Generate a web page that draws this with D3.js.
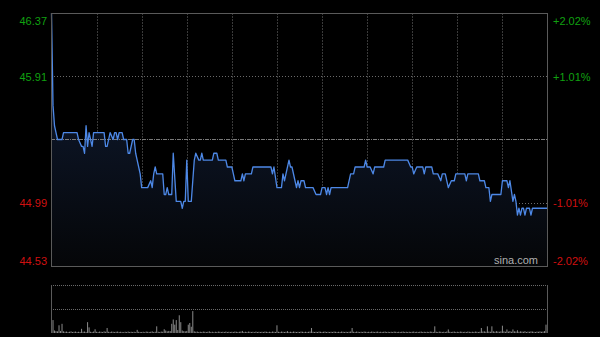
<!DOCTYPE html>
<html><head><meta charset="utf-8">
<script src="https://cdnjs.cloudflare.com/ajax/libs/d3/7.8.5/d3.min.js"></script>
<style>html,body{margin:0;padding:0;background:#000;}svg{display:block;}</style>
</head><body>
<svg id="c" width="600" height="337"></svg>
<script>
// ---- data ----
const preClose = 45.45;
const priceTicks = [44.53, 44.99, 45.91, 46.37];
const priceTickLabels = ["44.53", "44.99", "45.91", "46.37"];
const pctTickLabels = ["-2.02%", "-1.01%", "+1.01%", "+2.02%"];
const gridMinutes = [30, 60, 90, 120, 150, 180, 210, 240, 270, 300];
const totalMinutes = 330;
// price path (minute index since open, price)
const minutes = [0,1,2,3,4,7,8,17,18,20,21,22,23,24,25,27,28,35,36,37,39,41,42,43,44,45,47,48,50,51,52,54,55,56,57,58,59,60,64,66,67,68,69,70,74,75,76,77,78,80,81,83,86,87,88,89,90,91,93,95,96,98,99,100,101,107,108,110,111,116,117,120,121,122,126,127,128,129,133,134,146,147,148,150,153,154,155,158,159,160,162,163,164,165,166,168,169,174,176,179,180,182,183,184,185,186,197,199,201,202,208,209,210,212,214,215,221,222,237,239,240,241,243,247,248,249,253,254,257,259,260,262,264,266,268,269,275,276,277,284,285,288,289,291,292,293,299,300,303,304,305,307,308,309,310,311,312,313,314,315,316,318,319,320,330];
const prices = [46.37,45.70,45.55,45.50,45.45,45.45,45.50,45.50,45.45,45.40,45.40,45.35,45.55,45.40,45.50,45.40,45.50,45.50,45.40,45.40,45.50,45.45,45.50,45.50,45.45,45.50,45.50,45.45,45.45,45.35,45.35,45.45,45.45,45.35,45.30,45.25,45.20,45.10,45.10,45.15,45.10,45.20,45.25,45.20,45.20,45.05,45.05,45.10,45.05,45.05,45.35,45.00,45.00,44.95,45.00,45.00,45.30,45.00,45.00,45.30,45.35,45.30,45.30,45.35,45.30,45.30,45.35,45.35,45.30,45.30,45.25,45.25,45.20,45.15,45.15,45.20,45.15,45.20,45.20,45.25,45.25,45.20,45.25,45.10,45.10,45.20,45.15,45.30,45.25,45.25,45.15,45.10,45.15,45.10,45.15,45.15,45.10,45.10,45.05,45.05,45.10,45.10,45.05,45.10,45.05,45.10,45.10,45.20,45.20,45.25,45.25,45.30,45.25,45.25,45.20,45.25,45.25,45.30,45.30,45.25,45.25,45.20,45.25,45.25,45.20,45.25,45.25,45.20,45.20,45.15,45.20,45.20,45.10,45.15,45.15,45.20,45.20,45.15,45.20,45.20,45.15,45.15,45.10,45.10,45.00,45.05,45.05,45.15,45.15,45.10,45.15,45.00,45.05,45.00,44.90,44.95,44.90,44.95,44.95,44.90,44.95,44.95,44.90,44.95,44.95];
// volume per minute (thousand shares)
const volumes = [
105,62,12,9,8,37,10,44,8,6,7,5,6,8,5,6,7,5,6,5,20,6,7,5,52,27,6,5,7,18,
6,5,7,6,5,8,6,24,6,5,7,6,5,6,7,5,6,5,4,6,5,7,5,6,5,6,4,15,6,5,
5,6,4,7,6,5,6,8,5,6,32,6,5,7,6,18,12,8,10,9,44,65,40,62,14,85,52,12,9,8,
10,40,48,30,105,8,6,7,5,6,5,7,6,5,6,8,5,6,4,6,5,7,6,5,6,5,7,5,6,5,
6,5,7,6,5,6,7,10,5,6,5,7,6,5,6,4,7,5,6,5,6,5,7,6,5,6,5,7,6,5,
37,6,5,7,6,5,6,9,5,6,5,7,6,5,6,5,7,6,5,6,5,6,7,24,6,5,6,5,7,6,
5,6,7,5,6,5,6,5,7,6,5,6,5,7,6,5,6,5,6,7,24,6,5,7,6,5,6,5,7,6,
5,6,5,7,6,5,6,7,5,6,5,6,7,5,6,5,6,5,7,6,5,6,5,6,7,5,6,5,6,5,
6,7,5,6,5,6,7,5,6,5,6,5,7,6,5,32,6,5,7,6,5,6,5,7,17,6,5,6,7,5,
6,5,7,6,5,6,5,7,6,5,6,5,7,6,5,6,24,7,8,6,32,7,6,32,8,6,9,7,6,8,
35,8,6,17,7,9,6,17,8,7,13,6,8,7,6,9,5,7,6,8,7,6,5,7,6,8,6,7,9,40,12];
const volMax = 230;

// ---- layout ----
const L = 51, R = 548, T = 13, B = 266, VT = 285, VB = 333;
const font = "'Liberation Sans', Arial, sans-serif";
const svg = d3.select("#c");
svg.append("rect").attr("width", 600).attr("height", 337).attr("fill", "#000");

const x = d3.scaleLinear().domain([0, totalMinutes]).range([L + 0.5, R - 0.5]);
const y = d3.scaleLinear().domain([44.53, 46.37]).range([B, T]);
const yv = d3.scaleLinear().domain([0, volMax]).range([VB, VT]);

// gradient for area
const defs = svg.append("defs");
const g = defs.append("linearGradient").attr("id", "ag").attr("gradientUnits", "userSpaceOnUse")
  .attr("x1", 0).attr("y1", T).attr("x2", 0).attr("y2", B);
g.append("stop").attr("offset", "0%").attr("stop-color", "#142340");
g.append("stop").attr("offset", "45%").attr("stop-color", "#0c1424");
g.append("stop").attr("offset", "100%").attr("stop-color", "#050608");

// vertical grid (main)
svg.append("g").selectAll("line").data(gridMinutes).join("line")
  .attr("x1", d => Math.round(x(d)) + 0.5).attr("x2", d => Math.round(x(d)) + 0.5)
  .attr("y1", T).attr("y2", B)
  .attr("stroke", "#3a3a3a").attr("stroke-dasharray", "2,1");

// horizontal grid
svg.append("g").selectAll("line").data([44.99, 45.91]).join("line")
  .attr("x1", L).attr("x2", R)
  .attr("y1", d => Math.round(y(d)) + 0.5).attr("y2", d => Math.round(y(d)) + 0.5)
  .attr("stroke", "#6a6a6a").attr("stroke-dasharray", "1,2");

// area + line
const pts = minutes.map((m, i) => [m, prices[i]]);
svg.append("path").datum(pts)
  .attr("d", d3.area().x(d => x(d[0])).y0(B).y1(d => y(d[1])))
  .attr("fill", "url(#ag)");

// preclose line
svg.append("line").attr("x1", L).attr("x2", R)
  .attr("y1", Math.round(y(preClose)) + 0.5).attr("y2", Math.round(y(preClose)) + 0.5)
  .attr("stroke", "#7a7a7a").attr("stroke-dasharray", "4,1,1,1");

svg.append("path").datum(pts)
  .attr("d", d3.line().x(d => x(d[0])).y(d => y(d[1])))
  .attr("fill", "none").attr("stroke", "#4d88e6").attr("stroke-width", 1.3)
  .attr("stroke-linejoin", "round");

// main frame
svg.append("rect").attr("x", L + 0.5).attr("y", T + 0.5).attr("width", R - L - 1).attr("height", B - T)
  .attr("fill", "none").attr("stroke", "#5a5a5a");

// left axis
const leftAxis = d3.axisLeft(y).tickValues(priceTicks).tickSize(0).tickPadding(4)
  .tickFormat((d, i) => priceTickLabels[i]);
const la = svg.append("g").attr("transform", `translate(${L},0)`).call(leftAxis);
la.select(".domain").remove();
la.selectAll("text").attr("font-family", font).attr("font-size", 11)
  .attr("fill", d => d > preClose ? "#10a010" : "#d01010")
  .attr("dy", d => d === 46.37 ? "1.0em" : d === 44.53 ? "-0.1em" : "0.35em");

// right axis
const rightAxis = d3.axisRight(y).tickValues(priceTicks).tickSize(0).tickPadding(5)
  .tickFormat((d, i) => pctTickLabels[i]);
const ra = svg.append("g").attr("transform", `translate(${R},0)`).call(rightAxis);
ra.select(".domain").remove();
ra.selectAll("text").attr("font-family", font).attr("font-size", 11)
  .attr("fill", d => d > preClose ? "#10a010" : "#d01010")
  .attr("dy", d => d === 46.37 ? "1.0em" : d === 44.53 ? "-0.1em" : "0.35em");

// watermark
svg.append("text").attr("x", R - 10).attr("y", B - 2).attr("text-anchor", "end")
  .attr("font-family", font).attr("font-size", 11).attr("fill", "#b0b0b0").text("sina.com");

// volume panel
svg.append("line").attr("x1", L).attr("x2", R).attr("y1", VT + 0.5).attr("y2", VT + 0.5)
  .attr("stroke", "#6a6a6a").attr("stroke-dasharray", "1,1");
svg.append("line").attr("x1", L).attr("x2", R).attr("y1", (VT + VB) / 2 + 0.5).attr("y2", (VT + VB) / 2 + 0.5)
  .attr("stroke", "#6a6a6a").attr("stroke-dasharray", "1,1");
svg.append("g").selectAll("rect").data(volumes).join("rect")
  .attr("x", (d, i) => x(i) - 0.5).attr("width", 1)
  .attr("y", d => yv(d)).attr("height", d => VB - yv(d))
  .attr("fill", "#8a8a8a");
svg.append("line").attr("x1", L + 0.5).attr("x2", L + 0.5).attr("y1", VT).attr("y2", VB).attr("stroke", "#5a5a5a");
svg.append("line").attr("x1", R - 0.5).attr("x2", R - 0.5).attr("y1", VT).attr("y2", VB).attr("stroke", "#5a5a5a");
</script>
</body></html>
